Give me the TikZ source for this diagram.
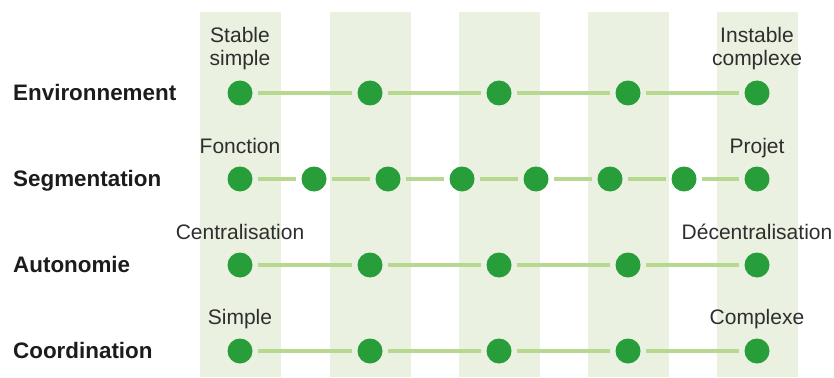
\documentclass[tikz,border=0pt]{standalone}
\usepackage{fontspec}
\setmainfont{Liberation Sans}
\definecolor{band}{HTML}{EAF1E0}
\definecolor{dotgreen}{HTML}{279E3A}
\definecolor{linkgreen}{HTML}{B6D98F}
\definecolor{txt}{HTML}{2E2E2E}
\definecolor{head}{HTML}{1C1C1C}
\tikzset{
  dotnode/.style={circle, fill=dotgreen, minimum size=25pt, inner sep=0pt},
  link/.style={draw=linkgreen, line width=4pt, shorten <=5pt, shorten >=5pt},
  rowlabel/.style={anchor=base west, font=\fontsize{22.4}{26}\selectfont\bfseries, text=head, inner sep=0pt},
  endlabel/.style={anchor=base, font=\fontsize{21}{23}\selectfont, text=txt, inner sep=0pt, align=center},
  bandbox/.style={fill=band, draw=none}
}
\begin{document}
\begin{tikzpicture}[x=1pt, y=-1pt]
\useasboundingbox (0,0) rectangle (834,377);
% vertical background bands
\foreach \bx in {200,330,459,588,717}
  \fill[bandbox] (\bx,12) rectangle (\bx+81,377);

% row headings
\node[rowlabel] (hEnv) at (13,100) {Environnement};
\node[rowlabel] (hSeg) at (13,186) {Segmentation};
\node[rowlabel] (hAut) at (13,272) {Autonomie};
\node[rowlabel] (hCoo) at (13,358) {Coordination};

% Environnement: five steps
\foreach \i/\x in {1/240,2/370,3/499,4/628,5/757}
  \node[dotnode] (e\i) at (\x,93) {};
\foreach \a/\b in {1/2,2/3,3/4,4/5}
  \draw[link] (e\a) -- (e\b);

% Segmentation: eight steps
\foreach \i/\x in {1/240,2/314,3/388,4/462,5/536,6/610,7/684,8/757}
  \node[dotnode] (s\i) at (\x,179) {};
\foreach \a/\b in {1/2,2/3,3/4,4/5,5/6,6/7,7/8}
  \draw[link] (s\a) -- (s\b);

% Autonomie: five steps
\foreach \i/\x in {1/240,2/370,3/499,4/628,5/757}
  \node[dotnode] (a\i) at (\x,265) {};
\foreach \a/\b in {1/2,2/3,3/4,4/5}
  \draw[link] (a\a) -- (a\b);

% Coordination: five steps
\foreach \i/\x in {1/240,2/370,3/499,4/628,5/757}
  \node[dotnode] (c\i) at (\x,351) {};
\foreach \a/\b in {1/2,2/3,3/4,4/5}
  \draw[link] (c\a) -- (c\b);

% end-point labels
\node[endlabel] (lEnvA) at (240,43) {Stable};
\node[endlabel] (lEnvB) at (240,66) {simple};
\node[endlabel] (lEnvC) at (757,43) {Instable};
\node[endlabel] (lEnvD) at (757,66) {complexe};
\node[endlabel] (lSegA) at (240,153) {Fonction};
\node[endlabel] (lSegB) at (757,153) {Projet};
\node[endlabel] (lAutA) at (240,239) {Centralisation};
\node[endlabel] (lAutB) at (757,239) {Décentralisation};
\node[endlabel] (lCooA) at (240,324) {Simple};
\node[endlabel] (lCooB) at (757,324) {Complexe};
\end{tikzpicture}
\end{document}
